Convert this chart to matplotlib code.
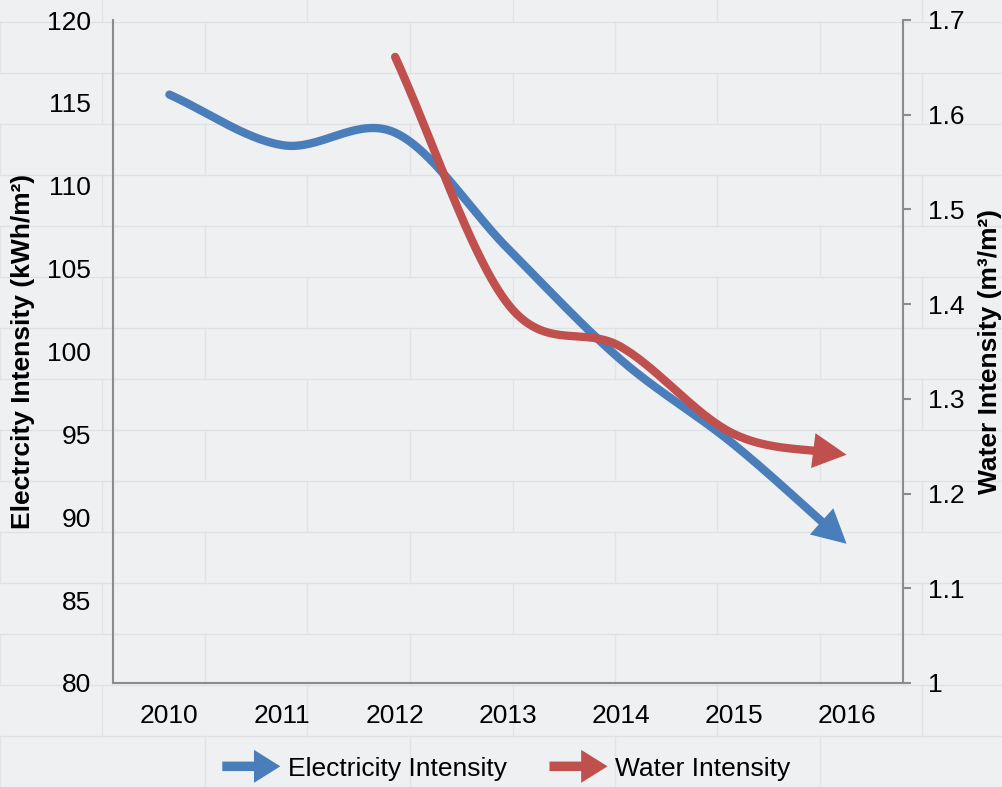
#Electricity and water intensity 2010-2016, smoothed lines with arrow ends
import numpy as np
import matplotlib
matplotlib.use("Agg")
import matplotlib.pyplot as plt
import matplotlib.patches as mpatches
from matplotlib.legend_handler import HandlerBase
from matplotlib.lines import Line2D

plt.rcParams['font.family'] = ['Liberation Sans', 'DejaVu Sans']

years = ['2010', '2011', '2012', '2013', '2014', '2015', '2016']
electricity = [115.5, 112.45, 113.2, 106.2, 99.5, 94.4, 88.4]
water_years = ['2012', '2013', '2014', '2015', '2016']
water = [1.661, 1.40, 1.355, 1.263, 1.241]

blue = '#4a7ebb'
red = '#c0504d'
grey = '#8c8c8c'


def catmull_rom(x, y, n=60):
    # excel-like smoothing through every point
    x = np.asarray(x, float)
    y = np.asarray(y, float)
    px = np.concatenate([[2 * x[0] - x[1]], x, [2 * x[-1] - x[-2]]])
    py = np.concatenate([[2 * y[0] - y[1]], y, [2 * y[-1] - y[-2]]])
    xs, ys = [], []
    for i in range(1, len(px) - 2):
        t = np.linspace(0, 1, n, endpoint=False)
        for p, out in ((px, xs), (py, ys)):
            p0, p1, p2, p3 = p[i - 1], p[i], p[i + 1], p[i + 2]
            out.append(0.5 * ((2 * p1) + (-p0 + p2) * t
                              + (2 * p0 - 5 * p1 + 4 * p2 - p3) * t ** 2
                              + (-p0 + 3 * p1 - 3 * p2 + p3) * t ** 3))
    xs.append([x[-1]])
    ys.append([y[-1]])
    return np.concatenate(xs), np.concatenate(ys)


def draw_arrow_line(ax, xpos, vals, color, label):
    sx, sy = catmull_rom(xpos, vals)
    cut = sx <= xpos[-1] - 0.13
    line, = ax.plot(sx[cut], sy[cut], color=color, lw=6, solid_capstyle='round', label=label)
    back = np.argmin(np.abs(sx - (xpos[-1] - 0.28)))
    ax.annotate('', xy=(sx[-1], sy[-1]), xytext=(sx[back], sy[back]),
                arrowprops=dict(arrowstyle='-|>,head_length=1.05,head_width=0.55',
                                mutation_scale=23, color=color, lw=0,
                                shrinkA=0, shrinkB=0))
    return line


class ArrowHandler(HandlerBase):
    def create_artists(self, legend, orig_handle, xdescent, ydescent,
                       width, height, fontsize, trans):
        a = mpatches.FancyArrow(-xdescent, height / 2 - ydescent, width, 0,
                                width=0.36 * fontsize, head_width=1.25 * fontsize,
                                head_length=1.0 * fontsize, length_includes_head=True,
                                color=orig_handle.get_color(), lw=0, transform=trans)
        return [a]


fig = plt.figure(figsize=(10.03, 7.87), dpi=100)
fig.patch.set_facecolor('#eef0f2')

# faint brick wall behind the chart
row_h = 51 / 787
brick_w = 205 / 1003
for r in range(int(1 / row_h) + 2):
    yy = r * row_h
    fig.add_artist(Line2D([0, 1], [yy, yy], color='#dfe1e4', lw=1.0, zorder=0))
    off = (r % 2) * brick_w / 2
    for c in range(-1, int(1 / brick_w) + 2):
        xx = off + c * brick_w
        fig.add_artist(Line2D([xx, xx], [yy, yy + row_h], color='#e1e3e6', lw=1.0, zorder=0))

ax = fig.add_axes([113 / 1003, 1 - 683 / 787, 790 / 1003, 663 / 787])
ax.set_facecolor('none')
ax2 = ax.twinx()

x_e = np.arange(len(years))
x_w = np.array([years.index(y) for y in water_years])

l1 = draw_arrow_line(ax, x_e, electricity, blue, 'Electricity Intensity')
l2 = draw_arrow_line(ax2, x_w, water, red, 'Water Intensity')

ax.set_xlim(-0.5, len(years) - 0.5)
ax.set_xticks(x_e)
ax.set_xticklabels(years)
ax.set_ylim(80, 120)
ax.set_yticks(np.arange(80, 121, 5))
ax2.set_ylim(1.0, 1.7)
ax2.set_yticks(np.round(np.arange(1.0, 1.71, 0.1), 1))
ax2.yaxis.set_major_formatter(plt.FuncFormatter(lambda v, p: f'{v:g}'))

for a in (ax, ax2):
    for s in a.spines.values():
        s.set_color(grey)
        s.set_linewidth(1.5)
    a.spines['top'].set_visible(False)
ax.spines['right'].set_visible(False)
ax2.spines['left'].set_visible(False)
ax2.spines['bottom'].set_visible(False)

ax.tick_params(axis='x', length=0, pad=15, labelsize=19)
ax.tick_params(axis='y', length=0, pad=16, labelsize=19)
ax2.tick_params(axis='y', length=6, width=1.5, color=grey, pad=12, labelsize=19)

ax.set_ylabel('Electrcity Intensity (kWh/m²)', fontsize=19, fontweight='bold')
ax.yaxis.set_label_coords(-0.099, 0.5)
ax2.set_ylabel('Water Intensity (m³/m²)', fontsize=19, fontweight='bold')
ax2.yaxis.set_label_coords(1.095, 0.5)

fig.legend([l1, l2], ['Electricity Intensity', 'Water Intensity'],
           handler_map={l1: ArrowHandler(), l2: ArrowHandler()},
           loc='lower center', bbox_to_anchor=(0.505, -0.022), ncol=2, frameon=False,
           fontsize=19, handlelength=2.2, handletextpad=0.3, columnspacing=1.6)

fig.savefig('out.png', dpi=100, facecolor=fig.get_facecolor())
